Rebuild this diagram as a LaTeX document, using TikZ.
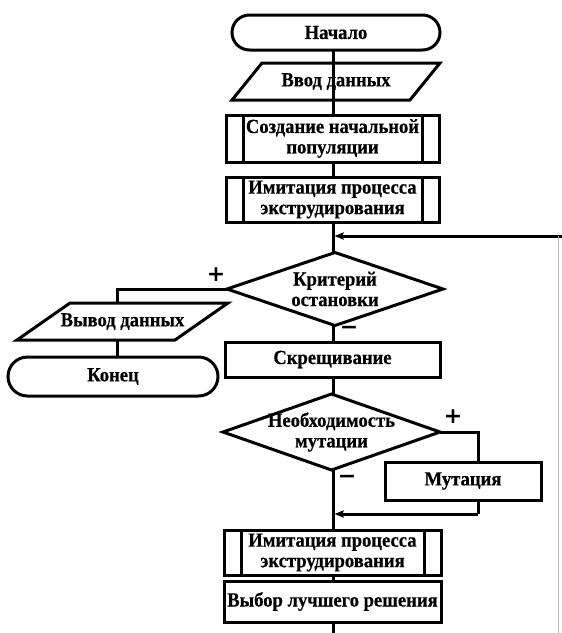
\documentclass[tikz,border=0pt]{standalone}
\usepackage{fontspec}
\setmainfont{Liberation Serif}[FakeStretch=0.93, FakeBold=0.5]
\newfontfamily\signfont{DejaVu Sans}[BoldFont={DejaVu Sans Bold}]
\usetikzlibrary{shapes.misc, arrows.meta}
\tikzset{
  txt/.style={font=\bfseries\fontsize{20}{20.5}\selectfont, align=center, inner sep=0pt, outer sep=0pt},
  plainbox/.style={txt, draw, rectangle},
  shapebox/.style={txt, rectangle},
  term/.style={txt, draw, rounded rectangle},
  sign/.style={font=\signfont\bfseries\fontsize{22}{22}\selectfont, inner sep=0pt},
  flow/.style={line width=3pt},
  arr/.style={flow, -{Stealth[length=9pt,width=7pt,inset=1pt]}, shorten >=1.5pt},
}
\newcommand{\predef}[1]{\draw[flow] ([xshift=17pt]#1.north west) -- ([xshift=17pt]#1.south west);
  \draw[flow] ([xshift=-17pt]#1.north east) -- ([xshift=-17pt]#1.south east);}
\newcommand{\paral}[2]{\draw[flow] ([xshift=#2]#1.north west) -- (#1.north east) -- ([xshift=-#2]#1.south east) -- (#1.south west) -- cycle;}
\newcommand{\diam}[1]{\draw[flow] (#1.north) -- (#1.east) -- (#1.south) -- (#1.west) -- cycle;}
\begin{document}
\begin{tikzpicture}[x=1pt, y=-1pt, line width=3pt, line join=miter]
\useasboundingbox (0,0) rectangle (562,633);

% main column
\node[term, minimum width=208pt, minimum height=35pt] (start) at (336,32.5) {Начало};
\node[shapebox, minimum width=208pt, minimum height=37pt] (in) at (336,81.5) {Ввод данных};
\node[plainbox, minimum width=213pt, minimum height=47pt] (init) at (332.5,138.5) {Создание начальной\\популяции};
\node[plainbox, minimum width=213pt, minimum height=45pt] (sim1) at (332.5,199.5) {Имитация процесса\\экструдирования};
\node[shapebox, minimum width=216pt, minimum height=73pt] (crit) at (335,289) {Критерий\\остановки};
\node[plainbox, minimum width=215pt, minimum height=35pt] (cross) at (332.5,359.5) {Скрещивание};
\node[shapebox, minimum width=217pt, minimum height=76pt] (mq) at (331.5,432) {Необходимость\\мутации};
\node[plainbox, minimum width=217pt, minimum height=45pt] (sim2) at (332.5,552.5) {Имитация процесса\\экструдирования};
\node[plainbox, minimum width=217pt, minimum height=41pt] (best) at (332.5,601.5) {Выбор лучшего решения};

% side nodes
\node[shapebox, minimum width=211pt, minimum height=37pt] (out) at (122.5,321.5) {Вывод данных};
\node[term, minimum width=210pt, minimum height=39pt] (fin) at (113,376.5) {Конец};
\node[plainbox, minimum width=156pt, minimum height=38pt] (mut) at (463,481) {Мутация};

\paral{in}{30pt}
\paral{out}{53pt}
\predef{init}
\predef{sim1}
\predef{sim2}
\diam{crit}
\diam{mq}

% coordinates
\coordinate (top) at (333,236);
\coordinate (fbR) at (562,236);
\coordinate (fbB) at (558,633);
\coordinate (fbT) at (558,236);
\coordinate (brL) at (117,289);
\coordinate (brR) at (478,432);
\coordinate (mj) at (333,514);
\coordinate (bot) at (333,633);

% connectors
\draw[flow] (start.south -| top) -- (in.south -| top);
\draw[flow] (in.south -| top) -- (init.north -| top);
\draw[flow] (init.south -| top) -- (sim1.north -| top);
\draw[flow] (sim1.south -| top) -- (crit.north -| top);
\draw[arr] (fbR) -- (top);
\draw[gray!55, line width=0.6pt] (fbT) -- (fbB);

\draw[flow] (crit.west) -- (brL) -- (brL |- out.north);
\draw[flow] (brL |- out.south) -- (brL |- fin.north);
\draw[flow] (crit.south -| top) -- (cross.north -| top);
\draw[flow] (cross.south -| top) -- (mq.north -| top);
\draw[flow] (mq.south -| top) -- (sim2.north -| top);
\draw[flow] (mq.east) -- (brR) -- (brR |- mut.north);
\draw[flow] (brR |- mut.south) -- (brR |- mj);
\draw[arr] (brR |- mj) -- (mj);
\draw[flow] (sim2.south -| top) -- (best.north -| top);
\draw[flow] (best.south -| top) -- (bot);

% signs
\node[sign] (p1) at (216,275) {+};
\node[sign] (m1) at (349,330.5) {−};
\node[sign] (p2) at (453,417) {+};
\node[sign] (m2) at (347,479) {−};
\end{tikzpicture}
\end{document}
